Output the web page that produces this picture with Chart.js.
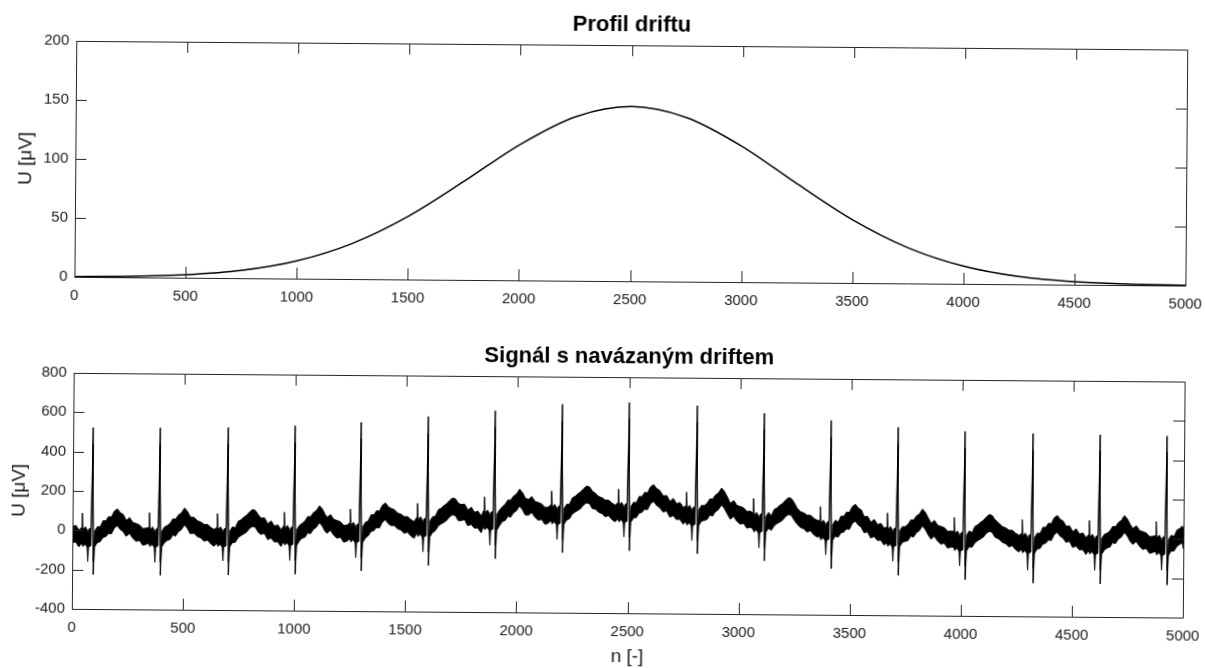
<!DOCTYPE html>
<html>
<head>
<meta charset="utf-8">
<script src="https://cdn.jsdelivr.net/npm/chart.js@4/dist/chart.umd.min.js"></script>
<style>
  html, body { margin: 0; padding: 0; background: #fff; overflow: hidden; }
  #page { position: relative; width: 1205px; height: 668px; transform: rotate(0.45deg); transform-origin: 50% 50%; }
  #topBox { position: absolute; left: 0; top: 0; width: 1205px; height: 320px; }
  #bottomBox { position: absolute; left: 0; top: 320px; width: 1205px; height: 348px; }
</style>
</head>
<body>
<div id="page">
  <div id="topBox"><canvas id="driftChart" width="1205" height="320"></canvas></div>
  <div id="bottomBox"><canvas id="signalChart" width="1205" height="348"></canvas></div>
</div>
<script>
// Profil driftu (horni graf)
const driftN = [0, 250, 500, 750, 1000, 1250, 1500, 1750, 2000, 2250, 2500,
  2750, 3000, 3250, 3500, 3750, 4000, 4250, 4500, 4750, 5000];
const driftU = [0.3, 0.8, 2.5, 6.5, 15, 30.2, 53.5, 83.5, 115, 139, 148,
  139, 115, 83.5, 53.5, 30.2, 15, 6.5, 2.5, 0.8, 0.3];

// Signal s navazanym driftem (dolni graf) - horni a dolni okraj sumoveho pasu
const signalN = [
  0, 15, 30, 41, 44, 47, 58, 67, 70, 73, 84, 90, 95, 100, 112, 125, 138, 150, 162, 175, 188, 202, 215, 228,
  242, 257, 272, 287, 302, 317, 332, 343, 346, 349, 360, 369, 372, 375, 386, 392, 397, 402, 414, 427, 440, 452, 464, 477, 490, 504, 517, 530,
  548, 563, 578, 593, 608, 623, 638, 649, 652, 655, 666, 675, 678, 681, 692, 698, 703, 708, 720, 733, 746, 758, 770, 783, 796, 810, 823, 836,
  849, 864, 879, 894, 909, 924, 939, 950, 953, 956, 967, 976, 979, 982, 993, 999, 1004, 1009, 1021, 1034, 1047, 1059, 1071, 1084, 1097, 1111, 1124, 1137,
  1146, 1161, 1176, 1191, 1206, 1221, 1236, 1247, 1250, 1253, 1264, 1273, 1276, 1279, 1290, 1296, 1301, 1306, 1318, 1331, 1344, 1356, 1368, 1381, 1394, 1408, 1421, 1434,
  1448, 1463, 1478, 1493, 1508, 1523, 1538, 1549, 1552, 1555, 1566, 1575, 1578, 1581, 1592, 1598, 1603, 1608, 1620, 1633, 1646, 1658, 1670, 1683, 1696, 1710, 1723, 1736,
  1749, 1764, 1779, 1794, 1809, 1824, 1839, 1850, 1853, 1856, 1867, 1876, 1879, 1882, 1893, 1899, 1904, 1909, 1921, 1934, 1947, 1959, 1971, 1984, 1997, 2011, 2024, 2037,
  2051, 2066, 2081, 2096, 2111, 2126, 2141, 2152, 2155, 2158, 2169, 2178, 2181, 2184, 2195, 2201, 2206, 2211, 2223, 2236, 2249, 2261, 2273, 2286, 2299, 2313, 2326, 2339,
  2352, 2367, 2382, 2397, 2412, 2427, 2442, 2453, 2456, 2459, 2470, 2479, 2482, 2485, 2496, 2502, 2507, 2512, 2524, 2537, 2550, 2562, 2574, 2587, 2600, 2614, 2627, 2640,
  2658, 2673, 2688, 2703, 2718, 2733, 2748, 2759, 2762, 2765, 2776, 2785, 2788, 2791, 2802, 2808, 2813, 2818, 2830, 2843, 2856, 2868, 2880, 2893, 2906, 2920, 2933, 2946,
  2960, 2975, 2990, 3005, 3020, 3035, 3050, 3061, 3064, 3067, 3078, 3087, 3090, 3093, 3104, 3110, 3115, 3120, 3132, 3145, 3158, 3170, 3182, 3195, 3208, 3222, 3235, 3248,
  3261, 3276, 3291, 3306, 3321, 3336, 3351, 3362, 3365, 3368, 3379, 3388, 3391, 3394, 3405, 3411, 3416, 3421, 3433, 3446, 3459, 3471, 3483, 3496, 3509, 3523, 3536, 3549,
  3563, 3578, 3593, 3608, 3623, 3638, 3653, 3664, 3667, 3670, 3681, 3690, 3693, 3696, 3707, 3713, 3718, 3723, 3735, 3748, 3761, 3773, 3785, 3798, 3811, 3825, 3838, 3851,
  3864, 3879, 3894, 3909, 3924, 3939, 3954, 3965, 3968, 3971, 3982, 3991, 3994, 3997, 4008, 4014, 4019, 4024, 4036, 4049, 4062, 4074, 4086, 4099, 4112, 4126, 4139, 4152,
  4170, 4185, 4200, 4215, 4230, 4245, 4260, 4271, 4274, 4277, 4288, 4297, 4300, 4303, 4314, 4320, 4325, 4330, 4342, 4355, 4368, 4380, 4392, 4405, 4418, 4432, 4445, 4458,
  4472, 4487, 4502, 4517, 4532, 4547, 4562, 4573, 4576, 4579, 4590, 4599, 4602, 4605, 4616, 4622, 4627, 4632, 4644, 4657, 4670, 4682, 4694, 4707, 4720, 4734, 4747, 4760,
  4773, 4788, 4803, 4818, 4833, 4848, 4863, 4874, 4877, 4880, 4891, 4900, 4903, 4906, 4917, 4923, 4928, 4933, 4945, 4958, 4971, 4983, 4995, 5000
];
const signalHi = [
  18, 25, 0, 15, 88, 0, 18, 0, -20, 5, 15, 522, -160, -5, 18, 18, 50, 48, 70, 68, 98, 110, 90, 82,
  51, 66, 41, 36, 29, 11, 13, 17, 92, 2, 20, 2, -18, 7, 17, 524, -158, -3, 20, 27, 40, 62, 60, 82, 92, 117, 100, 72,
  69, 52, 46, 34, 34, 19, 9, 20, 90, 5, 23, 5, -15, 10, 20, 528, -155, 0, 23, 19, 52, 59, 72, 82, 99, 112, 107, 85,
  68, 70, 40, 55, 28, 35, 10, 30, 100, 15, 33, 15, -5, 20, 30, 540, -145, 10, 33, 44, 57, 79, 77, 99, 109, 134, 117, 89,
  75, 90, 65, 60, 53, 35, 37, 48, 118, 33, 51, 33, 13, 38, 48, 560, -127, 28, 51, 59, 91, 89, 111, 109, 139, 151, 131, 123,
  117, 100, 94, 82, 82, 67, 57, 79, 150, 64, 82, 64, 44, 69, 79, 592, -96, 59, 82, 86, 119, 126, 139, 149, 166, 179, 174, 152,
  146, 148, 118, 133, 106, 113, 88, 116, 186, 101, 119, 101, 81, 106, 116, 624, -60, 96, 119, 136, 149, 171, 169, 191, 201, 226, 209, 181,
  174, 189, 164, 159, 152, 134, 136, 148, 218, 133, 151, 133, 113, 138, 148, 660, -27, 128, 151, 152, 185, 192, 205, 215, 232, 245, 240, 218,
  209, 192, 186, 174, 174, 159, 149, 161, 231, 146, 164, 146, 126, 151, 161, 671, -14, 141, 164, 163, 195, 193, 215, 213, 243, 255, 235, 227,
  198, 200, 170, 185, 158, 165, 140, 148, 218, 133, 151, 133, 113, 138, 148, 658, -27, 128, 151, 150, 163, 185, 183, 205, 215, 240, 223, 195,
  162, 177, 152, 147, 140, 122, 124, 115, 188, 100, 118, 100, 80, 105, 115, 622, -60, 95, 118, 101, 134, 141, 154, 164, 181, 194, 189, 167,
  140, 123, 117, 105, 105, 90, 80, 78, 150, 63, 81, 63, 43, 68, 78, 588, -97, 58, 81, 71, 103, 101, 123, 121, 151, 163, 143, 135,
  100, 102, 72, 87, 60, 67, 42, 48, 120, 33, 51, 33, 13, 38, 48, 556, -127, 28, 51, 51, 64, 86, 84, 106, 116, 141, 124, 96,
  69, 84, 59, 54, 47, 29, 31, 29, 100, 14, 32, 14, -6, 19, 29, 538, -146, 9, 32, 23, 56, 63, 76, 86, 103, 116, 111, 89,
  72, 55, 49, 37, 37, 22, 12, 20, 92, 5, 23, 5, -15, 10, 20, 530, -155, 0, 23, 22, 54, 52, 74, 72, 102, 114, 94, 86,
  60, 62, 32, 47, 20, 27, 2, 17, 90, 2, 20, 2, -18, 7, 17, 526, -158, -3, 20, 26, 39, 61, 59, 81, 91, 116, 99, 71,
  50, 65, 40, 35, 28, 10, 12, 15, 88, 0, 18, 0, -20, 5, 15, 522, -160, -5, 18, 12, 45, 52, 65, 45
];
const signalLo = [
  -62, -60, -85, -65, -70, -82, -70, -88, -158, -85, -78, 440, -225, -85, -62, -58, -35, -32, -15, -18, 12, 25, 5, -5,
  -29, -14, -39, -54, -49, -74, -69, -63, -68, -80, -68, -86, -160, -83, -76, 440, -226, -83, -60, -48, -43, -20, -26, -3, 7, 32, 14, -13,
  -11, -28, -34, -51, -44, -64, -76, -60, -65, -77, -65, -83, -150, -80, -73, 445, -222, -80, -57, -55, -31, -21, -13, -3, 15, 27, 22, -3,
  -14, -8, -40, -32, -52, -50, -75, -50, -55, -67, -55, -73, -145, -70, -63, 455, -215, -70, -47, -31, -26, -3, -9, 14, 24, 49, 31, 4,
  -5, 10, -15, -30, -25, -50, -45, -32, -37, -49, -37, -55, -128, -52, -45, 475, -195, -52, -29, -17, 6, 9, 26, 23, 53, 66, 46, 36,
  37, 20, 14, -3, 4, -16, -28, -1, -6, -18, -6, -24, -96, -21, -14, 505, -165, -21, 2, 12, 36, 46, 54, 64, 82, 94, 89, 64,
  64, 70, 38, 46, 26, 28, 3, 36, 31, 19, 31, 13, -60, 16, 23, 540, -128, 16, 39, 61, 66, 89, 83, 106, 116, 141, 123, 96,
  94, 109, 84, 69, 74, 49, 54, 68, 63, 51, 63, 45, -27, 48, 55, 572, -95, 48, 71, 78, 102, 112, 120, 130, 148, 160, 155, 130,
  129, 112, 106, 89, 96, 76, 64, 81, 76, 64, 76, 58, -12, 61, 68, 586, -82, 61, 84, 87, 110, 113, 130, 127, 157, 170, 150, 140,
  116, 122, 90, 98, 78, 80, 55, 68, 63, 51, 63, 45, -27, 48, 55, 573, -95, 48, 71, 75, 80, 103, 97, 120, 130, 155, 137, 110,
  82, 97, 72, 57, 62, 37, 42, 35, 30, 18, 30, 12, -62, 15, 22, 540, -128, 15, 38, 27, 51, 61, 69, 79, 97, 109, 104, 79,
  60, 43, 37, 20, 27, 7, -5, -2, -7, -19, -7, -25, -95, -22, -15, 503, -165, -22, 1, -5, 18, 21, 38, 35, 65, 78, 58, 48,
  18, 24, -8, 0, -20, -18, -43, -32, -37, -49, -37, -55, -125, -52, -45, 473, -197, -52, -29, -24, -19, 4, -2, 21, 31, 56, 38, 11,
  -11, 4, -21, -36, -31, -56, -51, -51, -56, -68, -56, -74, -146, -71, -64, 454, -216, -71, -48, -51, -27, -17, -9, 1, 19, 31, 26, 1,
  -8, -25, -31, -48, -41, -61, -73, -60, -65, -77, -65, -83, -165, -80, -73, 445, -230, -80, -57, -54, -31, -28, -11, -14, 16, 29, 9, -1,
  -22, -16, -48, -40, -60, -58, -83, -63, -68, -80, -68, -86, -163, -83, -76, 442, -232, -83, -60, -49, -44, -21, -27, -4, 6, 31, 13, -14,
  -30, -15, -40, -55, -50, -75, -70, -65, -70, -82, -70, -88, -160, -85, -78, 440, -235, -85, -62, -62, -38, -28, -20, -50
];

const fontFamily = "'Liberation Sans', Arial, Helvetica, sans-serif";
const axisColor = '#262626';
const textColor = '#1a1a1a';

// MATLAB-like box: frame and inward ticks on all four sides
const matlabBox = {
  id: 'matlabBox',
  afterDatasetsDraw(chart) {
    const { ctx, chartArea: a, scales: { x, y } } = chart;
    const len = 11;
    ctx.save();
    ctx.strokeStyle = axisColor;
    ctx.lineWidth = 1;
    ctx.beginPath();
    x.ticks.forEach((t) => {
      const px = Math.round(x.getPixelForValue(t.value)) + 0.5;
      ctx.moveTo(px, a.bottom); ctx.lineTo(px, a.bottom - len);
      ctx.moveTo(px, a.top); ctx.lineTo(px, a.top + len);
    });
    y.ticks.forEach((t) => {
      const py = Math.round(y.getPixelForValue(t.value)) + 0.5;
      ctx.moveTo(a.left, py); ctx.lineTo(a.left + len, py);
      ctx.moveTo(a.right, py); ctx.lineTo(a.right - len, py);
    });
    ctx.rect(Math.round(a.left) + 0.5, Math.round(a.top) + 0.5,
      Math.round(a.right - a.left), Math.round(a.bottom - a.top));
    ctx.stroke();
    ctx.restore();
  }
};

function baseOptions(title, titlePad, yMin, yMax, yStep, yTitlePad, xHeight, showXTitle) {
  return {
    responsive: false,
    animation: false,
    events: [],
    layout: { padding: { left: 0, right: 20, top: 0, bottom: 0 } },
    plugins: {
      legend: { display: false },
      tooltip: { enabled: false },
      title: {
        display: true,
        text: title,
        fullSize: false,
        color: '#000',
        font: { family: fontFamily, size: 22, weight: 'bold' },
        padding: titlePad
      }
    },
    scales: {
      x: {
        type: 'linear',
        min: 0,
        max: 5000,
        // tick marks are drawn by matlabBox; tickLength only spaces the labels
        grid: { display: false, drawTicks: true, tickLength: 10 },
        border: { display: false },
        ticks: {
          stepSize: 500, autoSkip: false, maxRotation: 0, padding: 0,
          color: textColor, font: { family: fontFamily, size: 15 },
          callback: (v) => String(v)
        },
        title: {
          display: showXTitle, text: 'n [-]', color: textColor,
          font: { family: fontFamily, size: 19 }, padding: { top: 0, bottom: 0 }
        },
        afterFit: (s) => { s.height = xHeight; }
      },
      y: {
        min: yMin,
        max: yMax,
        grid: { display: false, drawTicks: true, tickLength: 7 },
        border: { display: false },
        ticks: {
          stepSize: yStep, padding: 0,
          color: textColor, font: { family: fontFamily, size: 15 },
          callback: (v) => String(v)
        },
        title: {
          display: true, text: 'U [μV]', color: textColor,
          font: { family: fontFamily, size: 19 }, padding: { top: yTitlePad, bottom: 0 }
        },
        afterFit: (s) => { s.width = 74; }
      }
    }
  };
}

new Chart(document.getElementById('driftChart'), {
  type: 'line',
  data: {
    datasets: [{
      label: 'drift',
      data: driftN.map((n, i) => ({ x: n, y: driftU[i] })),
      borderColor: '#000',
      borderWidth: 1.5,
      pointRadius: 0,
      cubicInterpolationMode: 'monotone',
      fill: false
    }]
  },
  options: baseOptions('Profil driftu', { top: 12, bottom: 6.6 }, 0, 200, 50, 13, 39, false),
  plugins: [matlabBox]
});

new Chart(document.getElementById('signalChart'), {
  type: 'line',
  data: {
    datasets: [{
      label: 'horni',
      data: signalN.map((n, i) => ({ x: n, y: signalHi[i] })),
      borderColor: '#000',
      backgroundColor: '#000',
      borderWidth: 1,
      pointRadius: 0,
      tension: 0,
      fill: '+1'
    }, {
      label: 'dolni',
      data: signalN.map((n, i) => ({ x: n, y: signalLo[i] })),
      borderColor: '#000',
      borderWidth: 1,
      pointRadius: 0,
      tension: 0,
      fill: false
    }]
  },
  options: baseOptions('Signál s navázaným driftem', { top: 24, bottom: 6.6 }, -400, 800, 200, 9, 55, true),
  plugins: [matlabBox]
});
</script>
</body>
</html>
